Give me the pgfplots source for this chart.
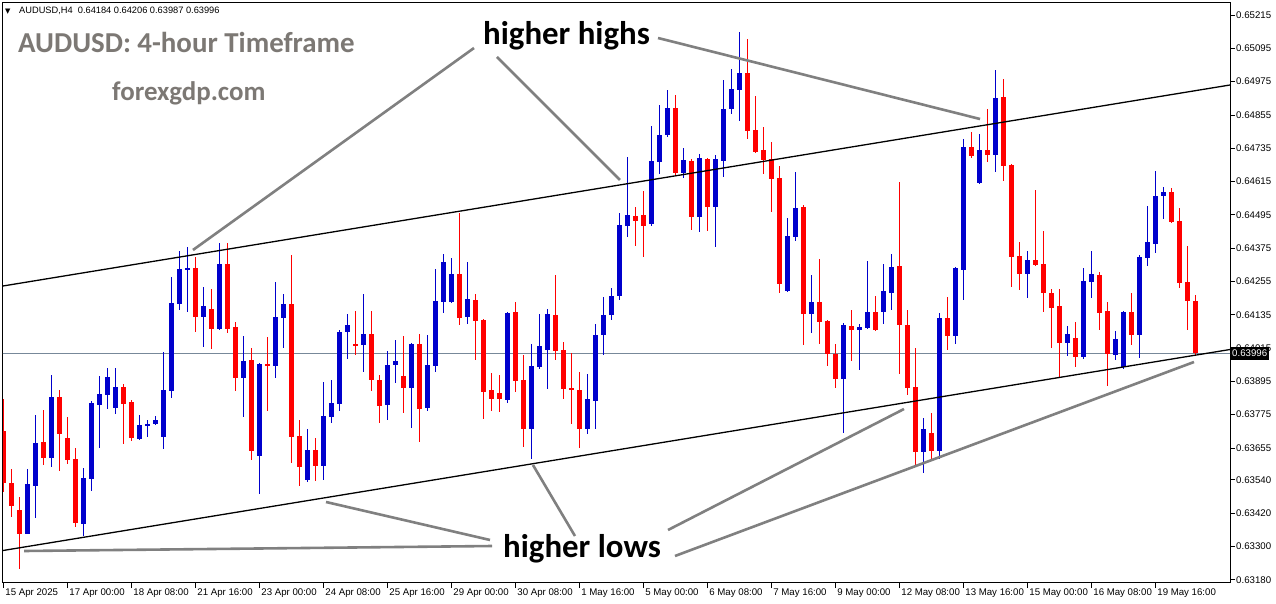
\documentclass[border=0pt]{standalone}
\usepackage{pgfplots}
\pgfplotsset{compat=1.18}
\usepackage{pgfplotstable}
\usepackage{fontspec}
\setmainfont{Liberation Sans}
\newfontfamily\calfont{Carlito}
\newfontfamily\djv{DejaVu Sans}
\definecolor{bullc}{RGB}{0,0,204}
\definecolor{bearc}{RGB}{255,0,0}
\definecolor{annot}{RGB}{128,128,128}
\definecolor{pline}{RGB}{119,136,153}
\definecolor{wmark}{RGB}{124,120,116}

\pgfplotstableread{
k O H L C
3 0.63348 0.63579 0.63345 0.63525
4 0.63521 0.63774 0.63402 0.63676
6 0.63619 0.63918 0.63586 0.63839
10 0.63384 0.63583 0.63338 0.63547
11 0.63543 0.63824 0.63500 0.63817
12 0.63810 0.63914 0.63655 0.63849
13 0.63846 0.63943 0.63795 0.63911
14 0.63799 0.63943 0.63777 0.63875
17 0.63687 0.63774 0.63684 0.63738
18 0.63734 0.63756 0.63694 0.63741
19 0.63741 0.63770 0.63738 0.63756
20 0.63694 0.64001 0.63651 0.63864
21 0.63860 0.64271 0.63835 0.64177
22 0.64174 0.64365 0.64152 0.64300
23 0.64296 0.64379 0.64145 0.64303
25 0.64127 0.64235 0.64019 0.64166
27 0.64084 0.64393 0.64080 0.64321
30 0.63907 0.64058 0.63766 0.63968
32 0.63626 0.63961 0.63489 0.63957
34 0.63950 0.64253 0.63907 0.64127
35 0.64123 0.64210 0.64015 0.64174
38 0.63539 0.63723 0.63532 0.63648
40 0.63590 0.63893 0.63539 0.63770
41 0.63766 0.63900 0.63745 0.63817
42 0.63813 0.64080 0.63788 0.64076
43 0.64073 0.64138 0.63975 0.64098
45 0.64026 0.64210 0.63929 0.64066
48 0.63810 0.64004 0.63756 0.63957
49 0.63954 0.64044 0.63889 0.63968
51 0.63871 0.64033 0.63727 0.64030
53 0.63799 0.64062 0.63788 0.63954
54 0.63950 0.64300 0.63929 0.64184
55 0.64181 0.64354 0.64141 0.64325
56 0.64181 0.64339 0.64177 0.64282
58 0.64127 0.64325 0.64102 0.64192
63 0.63828 0.64145 0.63817 0.64141
66 0.63723 0.64030 0.63615 0.63950
67 0.63947 0.64138 0.63939 0.64022
68 0.64011 0.64156 0.63867 0.64138
73 0.63723 0.63921 0.63705 0.63831
74 0.63824 0.64102 0.63723 0.64062
75 0.64062 0.64202 0.63993 0.64134
76 0.64134 0.64231 0.64116 0.64202
77 0.64202 0.64502 0.64188 0.64458
78 0.64455 0.64703 0.64415 0.64494
81 0.64462 0.64815 0.64455 0.64689
82 0.64685 0.64891 0.64642 0.64783
83 0.64783 0.64945 0.64779 0.64880
85 0.64646 0.64736 0.64628 0.64693
87 0.64487 0.64714 0.64433 0.64700
89 0.64523 0.64711 0.64379 0.64696
90 0.64689 0.64981 0.64631 0.64876
91 0.64876 0.65021 0.64858 0.64948
92 0.64945 0.65154 0.64833 0.65006
98 0.64221 0.64484 0.64217 0.64419
99 0.64415 0.64649 0.64401 0.64520
101 0.64138 0.64278 0.64069 0.64181
105 0.63903 0.64105 0.63709 0.64098
107 0.64080 0.64102 0.63936 0.64091
108 0.64087 0.64329 0.64084 0.64145
110 0.64145 0.64321 0.64102 0.64221
111 0.64213 0.64354 0.64152 0.64307
115 0.63640 0.63763 0.63565 0.63723
117 0.63644 0.64141 0.63615 0.64123
119 0.64058 0.64307 0.64030 0.64303
120 0.64296 0.64768 0.64188 0.64739
122 0.64610 0.64786 0.64606 0.64729
124 0.64711 0.65017 0.64649 0.64916
128 0.64282 0.64365 0.64199 0.64332
133 0.64033 0.64094 0.63986 0.64066
135 0.63983 0.64303 0.63975 0.64257
136 0.64253 0.64365 0.64199 0.64282
139 0.63990 0.64076 0.63972 0.64048
140 0.63947 0.64148 0.63939 0.64145
142 0.64062 0.64350 0.63979 0.64343
143 0.64339 0.64527 0.64311 0.64397
144 0.64390 0.64653 0.64357 0.64563
145 0.64563 0.64595 0.64480 0.64581
}\bull

\pgfplotstableread{
k O H L C
0 0.63716 0.63831 0.63496 0.63529
1 0.63529 0.63579 0.63406 0.63446
2 0.63431 0.63478 0.63219 0.63345
5 0.63676 0.63792 0.63593 0.63619
7 0.63839 0.63864 0.63572 0.63705
8 0.63691 0.63766 0.63597 0.63611
9 0.63615 0.63655 0.63370 0.63384
15 0.63875 0.63885 0.63669 0.63813
16 0.63821 0.63828 0.63680 0.63691
24 0.64303 0.64343 0.64073 0.64127
26 0.64156 0.64228 0.64011 0.64084
28 0.64321 0.64393 0.64069 0.64084
29 0.64091 0.64109 0.63860 0.63907
31 0.63972 0.64015 0.63611 0.63644
33 0.63957 0.64055 0.63788 0.63950
36 0.64174 0.64350 0.63601 0.63694
37 0.63698 0.63756 0.63518 0.63586
39 0.63648 0.63694 0.63539 0.63590
44 0.64030 0.64148 0.63990 0.64026
46 0.64066 0.64148 0.63860 0.63900
47 0.63903 0.63918 0.63745 0.63806
50 0.63914 0.64058 0.63781 0.63871
52 0.64030 0.64066 0.63676 0.63795
57 0.64282 0.64502 0.64098 0.64123
59 0.64188 0.64210 0.63975 0.64112
60 0.64116 0.64120 0.63759 0.63857
61 0.63864 0.63925 0.63788 0.63831
62 0.63853 0.63918 0.63784 0.63831
64 0.64145 0.64181 0.63857 0.63896
65 0.63900 0.63990 0.63658 0.63723
69 0.64134 0.64278 0.63972 0.64004
70 0.64008 0.64037 0.63831 0.63867
71 0.63871 0.63997 0.63741 0.63864
72 0.63864 0.63929 0.63655 0.63723
79 0.64491 0.64523 0.64383 0.64473
80 0.64494 0.64584 0.64343 0.64455
84 0.64880 0.64927 0.64635 0.64646
86 0.64689 0.64696 0.64440 0.64487
88 0.64696 0.64700 0.64437 0.64523
93 0.65006 0.65129 0.64768 0.64797
94 0.64801 0.64923 0.64718 0.64721
95 0.64729 0.64811 0.64642 0.64693
96 0.64696 0.64757 0.64505 0.64624
97 0.64628 0.64671 0.64213 0.64246
100 0.64523 0.64530 0.64026 0.64138
102 0.64181 0.64336 0.64030 0.64109
103 0.64112 0.64116 0.63950 0.63993
104 0.63993 0.64030 0.63871 0.63903
106 0.64094 0.64152 0.63968 0.64080
109 0.64145 0.64202 0.64076 0.64080
112 0.64311 0.64613 0.63921 0.64098
113 0.64098 0.64152 0.63846 0.63871
114 0.63875 0.64015 0.63593 0.63640
116 0.63709 0.63781 0.63615 0.63644
118 0.64123 0.64199 0.64008 0.64058
121 0.64739 0.64793 0.64700 0.64707
123 0.64729 0.64876 0.64685 0.64711
125 0.64920 0.64984 0.64617 0.64671
126 0.64675 0.64680 0.64235 0.64343
127 0.64347 0.64397 0.64224 0.64282
129 0.64332 0.64584 0.64311 0.64314
130 0.64318 0.64437 0.64145 0.64213
131 0.64213 0.64228 0.64015 0.64159
132 0.64166 0.64228 0.63911 0.64033
134 0.64051 0.64109 0.63947 0.63983
137 0.64278 0.64289 0.64080 0.64141
138 0.64148 0.64181 0.63878 0.63993
141 0.64145 0.64213 0.64026 0.64062
146 0.64577 0.64592 0.64466 0.64469
147 0.64473 0.64520 0.64231 0.64249
148 0.64253 0.64383 0.64080 0.64184
149 0.64184 0.64206 0.63987 0.63996
}\bear

\begin{document}
\begin{tikzpicture}
\path[use as bounding box, fill=white] (0,0) rectangle (1276bp,604bp);
\begin{axis}[
  at={(3bp,21bp)}, anchor=south west,
  scale only axis, width=1227bp, height=580bp,
  xmin=-0.0875, xmax=153.29, ymin=0.631682, ymax=0.652583,
  axis line style={black, line width=1bp},
  scaled y ticks=false,
  xtick={0,8,...,144},
  xticklabels={15 Apr 2025,17 Apr 00:00,18 Apr 08:00,21 Apr 16:00,23 Apr 00:00,24 Apr 08:00,25 Apr 16:00,29 Apr 00:00,30 Apr 08:00,1 May 16:00,5 May 00:00,6 May 08:00,7 May 16:00,9 May 00:00,12 May 08:00,13 May 16:00,15 May 00:00,16 May 08:00,19 May 16:00},
  ytick={0.65215,0.65095,0.64975,0.64855,0.64735,0.64615,0.64495,0.64375,0.64255,0.64135,0.64015,0.63895,0.63775,0.63655,0.63540,0.63420,0.63300,0.63180},
  yticklabels={0.65215,0.65095,0.64975,0.64855,0.64735,0.64615,0.64495,0.64375,0.64255,0.64135,0.64015,0.63895,0.63775,0.63655,0.63540,0.63420,0.63300,0.63180},
  tick align=outside,
  xtick pos=bottom, ytick pos=right, yticklabel pos=right,
  major tick length=5bp,
  tick style={black, line width=0.8bp},
  ticklabel style={font=\fontsize{9.7}{11}\selectfont},
  xticklabel style={anchor=north west, inner sep=0pt, xshift=1.5bp, yshift=-1bp},
  yticklabel style={anchor=west, inner sep=0pt, xshift=1bp},
  clip=true,
  candle/.style={draw=none, mark=none, forget plot,
    error bars/y dir=both, error bars/y explicit, error bars/error mark=none},
]
% bid price line
\addplot[pline, line width=0.8bp, forget plot] coordinates {(-1,0.63996) (160,0.63996)};
% wicks
\addplot[candle, error bars/error bar style={draw=bullc, line width=1bp}]
  table[x=k, y expr={(\thisrow{H}+\thisrow{L})/2}, y error expr={(\thisrow{H}-\thisrow{L})/2}] {\bull};
\addplot[candle, error bars/error bar style={draw=bearc, line width=1bp}]
  table[x=k, y expr={(\thisrow{H}+\thisrow{L})/2}, y error expr={(\thisrow{H}-\thisrow{L})/2}] {\bear};
% bodies
\addplot[candle, error bars/error bar style={draw=bullc, line width=5bp}]
  table[x=k, y expr={(\thisrow{O}+\thisrow{C})/2}, y error expr={max(abs(\thisrow{C}-\thisrow{O})/2,0.000018)}] {\bull};
\addplot[candle, error bars/error bar style={draw=bearc, line width=5bp}]
  table[x=k, y expr={(\thisrow{O}+\thisrow{C})/2}, y error expr={max(abs(\thisrow{C}-\thisrow{O})/2,0.000018)}] {\bear};
% channel lines
\addplot[black, line width=1.3bp, forget plot] coordinates {(-0.0875,0.642385) (153.29,0.649628)};
\addplot[black, line width=1.3bp, forget plot] coordinates {(-0.0875,0.632853) (153.29,0.640096)};
% annotation lines
\addplot[annot, line width=2.6bp, forget plot] coordinates {(58.79,0.650961) (23.66,0.643682)};
\addplot[annot, line width=2.6bp, forget plot] coordinates {(61.66,0.650637) (77.04,0.646205)};
\addplot[annot, line width=2.6bp, forget plot] coordinates {(81.79,0.651322) (122.04,0.648403)};
\addplot[annot, line width=2.6bp, forget plot] coordinates {(2.54,0.632835) (61.04,0.633015)};
\addplot[annot, line width=2.6bp, forget plot] coordinates {(60.79,0.633232) (40.29,0.634601)};
\addplot[annot, line width=2.6bp, forget plot] coordinates {(71.41,0.633376) (66.16,0.635934)};
\addplot[annot, line width=2.6bp, forget plot] coordinates {(83.04,0.633592) (112.54,0.637952)};
\addplot[annot, line width=2.6bp, forget plot] coordinates {(83.91,0.632655) (148.79,0.639646)};
\coordinate (pl) at (axis cs:153.29,0.63996);
\end{axis}
% current price label
\node[fill=black, text=white, anchor=west, inner xsep=1.5bp, inner ysep=0pt, minimum height=13bp, font=\fontsize{9.7}{11}\selectfont] at ([xshift=0.5bp]pl) {0.63996};
% header
\node[anchor=base west, inner sep=0pt, font=\djv\fontsize{7}{8}\selectfont] at (5bp,590bp) {▼};
\node[anchor=base west, inner sep=0pt, font=\fontsize{9.3}{10}\selectfont] at (19bp,590bp) {AUDUSD,H4\ \ 0.64184 0.64206 0.63987 0.63996};
% titles
\node[anchor=base west, inner sep=0pt, text=wmark, font=\calfont\bfseries\fontsize{29}{30}\selectfont] at (18bp,551bp) {AUDUSD: 4-hour Timeframe};
\node[anchor=base west, inner sep=0pt, text=wmark, font=\calfont\bfseries\fontsize{27}{28}\selectfont] at (112bp,503bp) {forexgdp.com};
\node[anchor=base west, inner sep=0pt, text=black, font=\calfont\bfseries\fontsize{33}{34}\selectfont] at (483bp,559bp) {higher highs};
\node[anchor=base west, inner sep=0pt, text=black, font=\calfont\bfseries\fontsize{33}{34}\selectfont] at (503bp,46bp) {higher lows};
\end{tikzpicture}
\end{document}
